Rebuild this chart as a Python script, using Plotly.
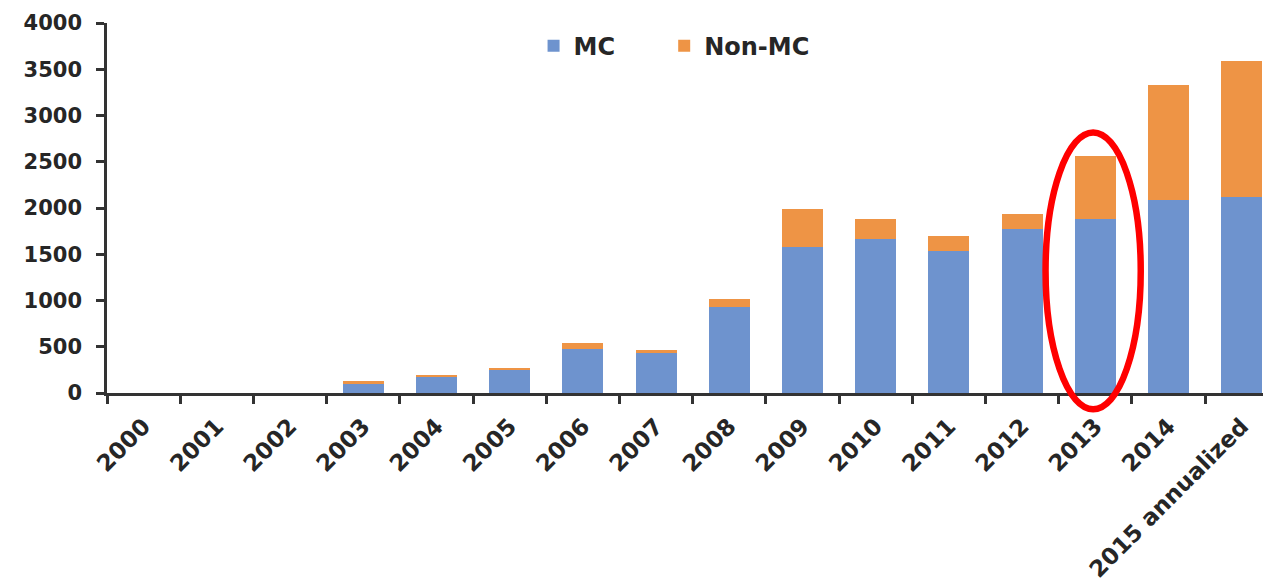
import plotly.graph_objects as go

# Yearly counts split into MC and non-MC
years = ["2000", "2001", "2002", "2003", "2004", "2005", "2006", "2007",
         "2008", "2009", "2010", "2011", "2012", "2013", "2014", "2015 annualized"]
mc = [0, 0, 0, 100, 175, 255, 480, 435, 930, 1580, 1660, 1540, 1770, 1880, 2085, 2120]
non_mc = [0, 0, 0, 25, 18, 20, 60, 27, 85, 405, 220, 160, 165, 685, 1240, 1470]

y_ticks = [0, 500, 1000, 1500, 2000, 2500, 3000, 3500, 4000]
highlight_year = "2013"

BLUE = "#6E93CE"
ORANGE = "#EE9445"
INK = "#262626"
AXIS = "#333333"
FONT = "DejaVu Sans, Liberation Sans, Arial, sans-serif"

fig = go.Figure()
fig.add_trace(go.Bar(x=years, y=mc, name="MC", marker=dict(color=BLUE, line=dict(width=0)),
                     width=0.56, legend="legend"))
fig.add_trace(go.Bar(x=years, y=non_mc, name="Non-MC", marker=dict(color=ORANGE, line=dict(width=0)),
                     width=0.56, legend="legend2"))

# Red ring around the highlighted year
hi = years.index(highlight_year)
fig.add_shape(type="circle", xref="x", yref="paper",
              x0=hi - 0.68, x1=hi + 0.62, y0=-0.044, y1=0.704,
              line=dict(color="#FF0000", width=6.5), fillcolor="rgba(0,0,0,0)")

legend_style = dict(orientation="h", y=0.998, xanchor="left", yanchor="top",
                    font=dict(size=24, family=FONT, color=INK, weight="bold"),
                    bgcolor="rgba(0,0,0,0)")

fig.update_layout(
    width=1263, height=583,
    margin=dict(l=107, r=0, t=23, b=190, pad=0),
    barmode="stack",
    plot_bgcolor="white", paper_bgcolor="white",
    font=dict(family=FONT, color=INK),
    showlegend=True,
    legend=dict(x=0.369, **legend_style),
    legend2=dict(x=0.482, **legend_style),
)

fig.update_xaxes(
    type="category", range=[-0.5, 15.29],
    showline=True, linecolor=AXIS, linewidth=2.5,
    ticks="outside", tickson="boundaries", ticklen=8, tickwidth=2.5, tickcolor=AXIS,
    tickangle=-45, ticklabelstandoff=8,
    tickfont=dict(size=23, family=FONT, color=INK, weight="bold"),
    showgrid=False, zeroline=False,
)
fig.update_yaxes(
    range=[0, 4000], tickvals=y_ticks,
    showline=True, linecolor=AXIS, linewidth=2.5,
    ticks="outside", ticklen=8, tickwidth=2.5, tickcolor=AXIS,
    ticklabelstandoff=10,
    tickfont=dict(size=21, family=FONT, color=INK, weight="bold"),
    showgrid=False, zeroline=False,
)

fig.write_html("out.html")
